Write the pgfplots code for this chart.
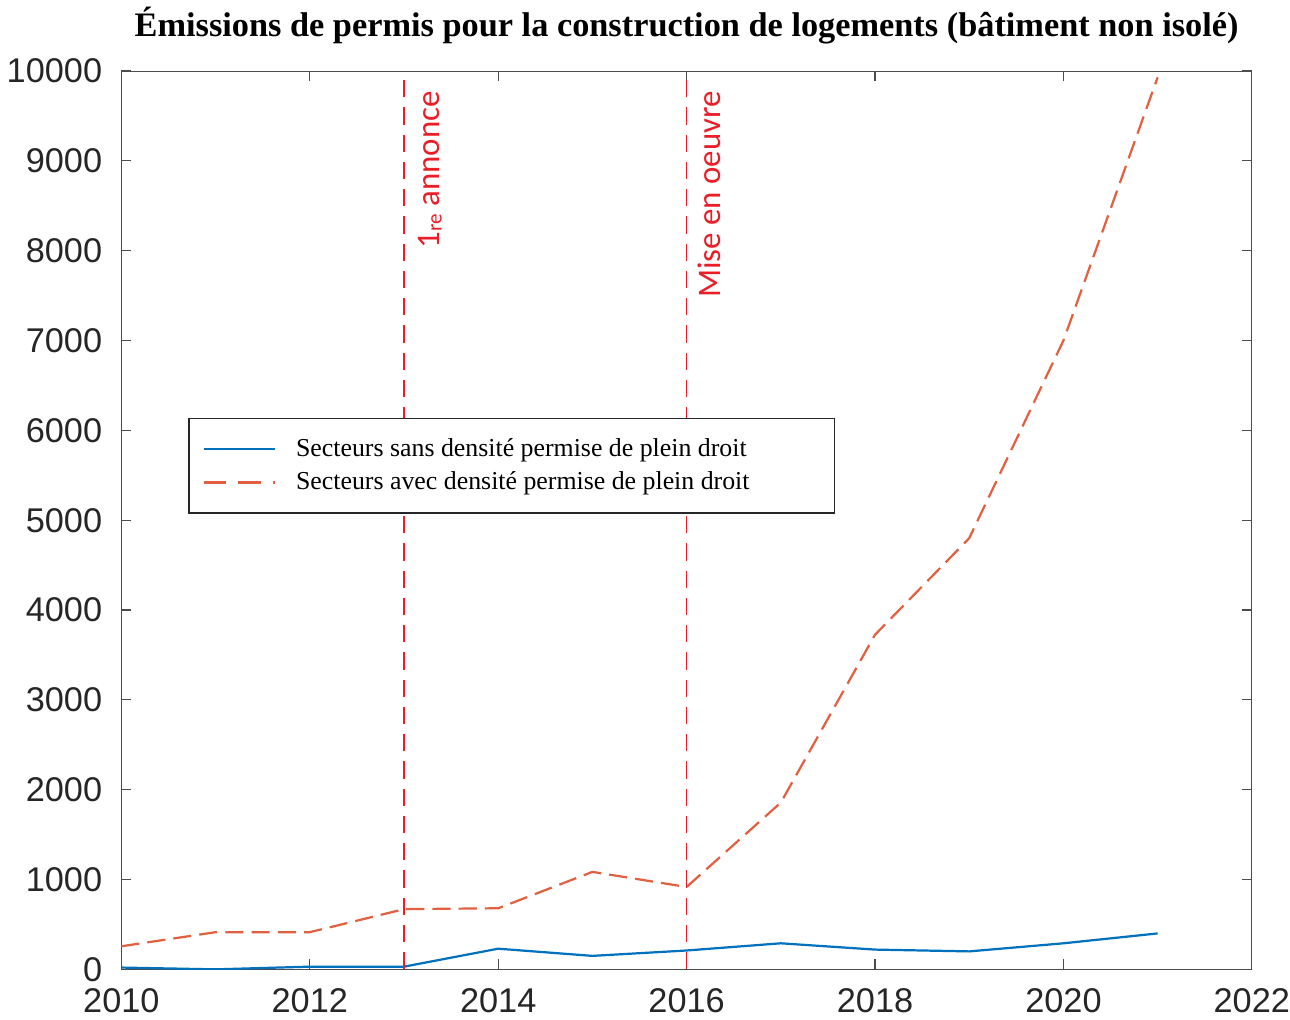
\documentclass[border=0pt]{standalone}
\usepackage{fontspec}
\setmainfont{Liberation Serif}
\newfontfamily\arialf{Liberation Sans}
\newfontfamily\calib{Carlito}
\usepackage{pgfplots}
\pgfplotsset{compat=1.18}
\definecolor{mblue}{RGB}{0,114,189}
\definecolor{morange}{RGB}{226,96,64}
\definecolor{vred}{RGB}{235,30,40}
\pgfplotsset{
  legsolid/.style={legend image code/.code={\draw[##1] (0pt,0pt) -- (35pt,0pt);}},
  legdash/.style={legend image code/.code={\draw[##1, dash pattern=on 11pt off 6pt] (0pt,0pt) -- (35pt,0pt);}},
}
\begin{document}
\begin{tikzpicture}
\begin{axis}[
  scale only axis, width=560pt, height=445pt,
  xmin=2010, xmax=2022, ymin=0, ymax=10000,
  xtick={2010,2012,...,2022}, ytick={0,1000,...,10000},
  tick align=inside, major tick length=5pt,
  scaled ticks=false,
  /pgf/number format/1000 sep={},
  /pgf/number format/assume math mode=true,
  tick label style={font=\arialf\fontsize{17}{17}\selectfont, text=black!85},
  xticklabel style={yshift=-6pt, inner xsep=0pt},
  yticklabel style={xshift=-6pt},
  axis line style={black!70},
  every tick/.style={black!70, line width=0.6pt},
  title={Émissions de permis pour la construction de logements (bâtiment non isolé)},
  title style={font=\bfseries\fontsize{17}{19}\selectfont, yshift=4pt},
  legend style={at={(0.059,0.614)}, anchor=north west, draw=black!85, line width=0.8pt,
    font=\fontsize{12.8}{15}\selectfont, inner xsep=7pt, inner ysep=8pt,
    row sep=2pt},
  legend cell align=left,
]
\addplot[mblue, line width=1.1pt, legsolid]
  coordinates {(2010,20) (2011,0) (2012,30) (2013,30) (2014,230) (2015,150) (2016,210) (2017,290) (2018,220) (2019,200) (2020,290) (2021,400)};
\addlegendentry{\hspace{8pt}Secteurs sans densité permise de plein droit\hspace*{33pt}}
\addplot[morange, line width=1.1pt, dash pattern=on 9pt off 4pt, legdash]
  coordinates {(2010,257) (2011,414) (2012,414) (2013,670) (2014,680) (2015,1085) (2016,917) (2017,1857) (2018,3725) (2019,4800) (2020,7000) (2021,9930)};
\addlegendentry{\hspace{8pt}Secteurs avec densité permise de plein droit\hspace*{33pt}}
\addplot[vred, line width=0.7pt, dash pattern=on 8.5pt off 5pt, forget plot]
  coordinates {(2013,0) (2013,10000)};
\addplot[vred, line width=0.7pt, dash pattern=on 8.5pt off 5pt, forget plot]
  coordinates {(2016,0) (2016,10000)};
\node[rotate=90, anchor=north east, text=vred, font=\calib\fontsize{16.3}{16.3}\selectfont, inner sep=0pt]
  at (axis cs:2013.15,9780) {1\raisebox{-1pt}{\fontsize{10.5}{10.5}\selectfont re} annonce};
\node[rotate=90, anchor=north east, text=vred, font=\calib\fontsize{16.3}{16.3}\selectfont, inner sep=0pt]
  at (axis cs:2016.12,9780) {Mise en oeuvre};
\end{axis}
\end{tikzpicture}
\end{document}
